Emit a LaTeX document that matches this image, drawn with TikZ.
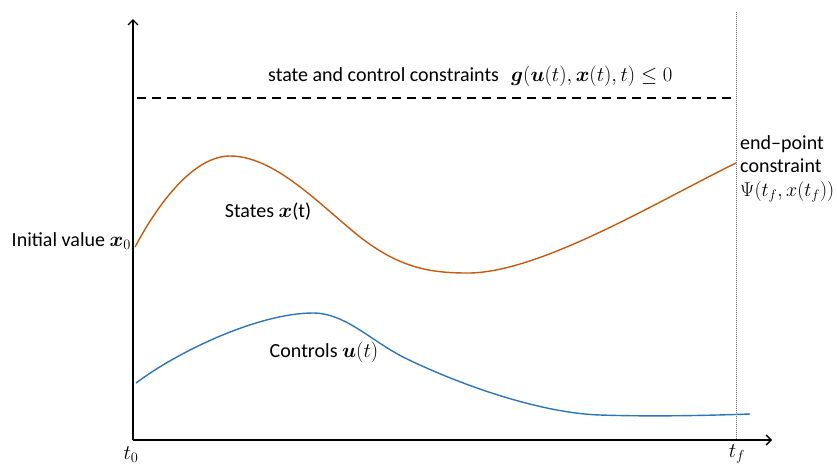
\documentclass[tikz,border=0pt]{standalone}
\usepackage{amsmath,bm}
\usepackage{graphicx}
\usepackage{fontspec}
\setmainfont{Carlito}
\usetikzlibrary{arrows.meta}

\definecolor{stateorange}{RGB}{197,90,17}
\definecolor{controlblue}{RGB}{46,117,182}

\begin{document}
\begin{tikzpicture}[
  x=1pt,y=-1pt,
  axis/.style={-{Straight Barb[length=5pt,width=10pt]},line width=1.3pt},
  curve/.style={line width=1.4pt,line join=round},
  txt/.style={font=\fontsize{20}{23}\selectfont,inner sep=0pt}
]
  \useasboundingbox (0,0) rectangle (837,467);

  % axes
  \coordinate (origin) at (133,440);
  \coordinate (ytip) at (133,19);
  \coordinate (xtip) at (772,440);
  \draw[axis] (origin) -- (ytip);
  \draw[axis] (origin) -- (xtip);

  % final time
  \coordinate (tftop) at (736,12);
  \coordinate (tfbot) at (736,440);
  \draw[gray!80!black,densely dotted,line width=1pt] (tftop) -- (tfbot);

  % constraint line
  \coordinate (gleft) at (137,98);
  \coordinate (gright) at (736,98);
  \draw[line width=1.6pt,dash pattern=on 9pt off 6pt] (gleft) -- (gright);

  % states and controls
  \draw[curve,stateorange] (135,247) .. controls (160,200) and (195,156) .. (230,156)
    .. controls (275,156) and (320,205) .. (360,237)
    .. controls (400,268) and (430,273) .. (468,273)
    .. controls (540,273) and (660,200) .. (736,163);
  \draw[curve,controlblue] (136,383) .. controls (180,350) and (260,313) .. (313,313)
    .. controls (345,313) and (370,340) .. (403,357)
    .. controls (460,385) and (540,413) .. (600,415)
    .. controls (660,417) and (720,415) .. (750,414);

  % labels
  \node[txt,anchor=west] (glabel) at (268,76)
    {state and control constraints\hspace{12pt}{\fontsize{22}{25}\selectfont$\bm{g}(\bm{u}(t),\bm{x}(t),t)\le 0$}};
  \node[txt,anchor=east] (x0label) at (131,241) {Initial value {\fontsize{22}{25}\selectfont$\bm{x}_0$}};
  \node[txt] (xlabel) at (268,212) {States {\fontsize{22}{25}\selectfont$\bm{x}$}(t)};
  \node[txt] (ulabel) at (324,352) {Controls {\fontsize{22}{25}\selectfont$\bm{u}(t)$}};
  \node[txt,anchor=north west,align=left] (psilabel) at (740,135)
    {end–point\\constraint\\[1pt]\resizebox{94pt}{!}{$\Psi(t_f,x(t_f))$}};
  \node[txt] (t0label) at (131,455) {$t_0$};
  \node[txt] (tflabel) at (737,454) {$t_f$};
\end{tikzpicture}
\end{document}
